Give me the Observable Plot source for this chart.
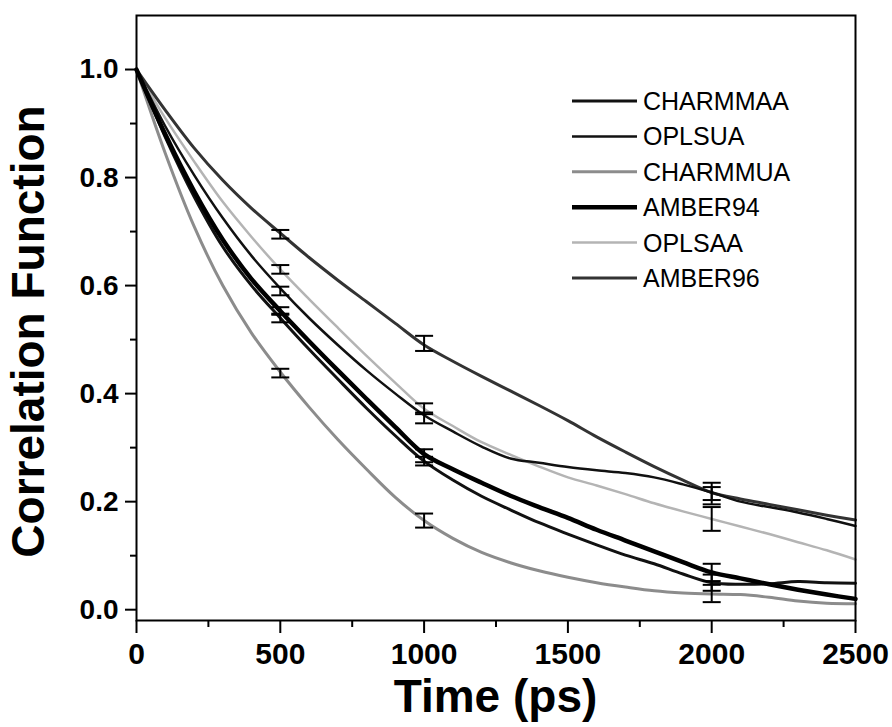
<!DOCTYPE html>
<html><head><meta charset="utf-8">
<script src="https://cdn.jsdelivr.net/npm/d3@7"></script>
<script src="https://cdn.jsdelivr.net/npm/@observablehq/plot@0.6"></script>
<style>body{margin:0;background:#fff}</style>
</head><body><div id="chart"></div>
<script>
// ---- data ----
const time = [0,100,200,300,400,500,600,700,800,900,1000,1100,1200,1300,1400,1500,1600,1700,1800,1900,2000,2100,2200,2300,2400,2500];
const CHARMMAA = [1.0,0.875,0.765,0.672,0.6,0.54,0.482,0.427,0.373,0.322,0.275,0.24,0.21,0.185,0.161,0.14,0.12,0.101,0.085,0.066,0.05,0.047,0.048,0.052,0.05,0.049];
const OPLSUA   = [1.0,0.895,0.805,0.725,0.655,0.595,0.54,0.49,0.443,0.4,0.36,0.33,0.302,0.28,0.272,0.264,0.258,0.253,0.245,0.232,0.217,0.2,0.19,0.18,0.168,0.155];
const CHARMMUA = [1.0,0.845,0.71,0.6,0.512,0.44,0.375,0.315,0.26,0.208,0.165,0.132,0.106,0.087,0.072,0.06,0.05,0.042,0.035,0.031,0.029,0.028,0.023,0.016,0.012,0.011];
const AMBER94  = [1.0,0.88,0.775,0.685,0.612,0.553,0.497,0.443,0.39,0.338,0.288,0.26,0.235,0.211,0.19,0.17,0.148,0.128,0.108,0.088,0.069,0.058,0.047,0.037,0.028,0.02];
const OPLSAA   = [1.0,0.91,0.83,0.755,0.69,0.63,0.575,0.522,0.47,0.42,0.372,0.34,0.31,0.287,0.265,0.245,0.23,0.214,0.197,0.182,0.168,0.154,0.14,0.125,0.11,0.093];
const AMBER96  = [1.0,0.925,0.855,0.795,0.743,0.697,0.652,0.61,0.57,0.53,0.49,0.46,0.432,0.405,0.378,0.35,0.32,0.292,0.265,0.24,0.217,0.205,0.195,0.185,0.175,0.166];

const seriesNames = ["CHARMMAA","OPLSUA","CHARMMUA","AMBER94","OPLSAA","AMBER96"];
const seriesValues = [CHARMMAA, OPLSUA, CHARMMUA, AMBER94, OPLSAA, AMBER96];

// error bars at selected times (centre, half-width)
const errTime = [500, 1000, 2000];
const errCenter = [
  [0.54, 0.275, 0.05],   // CHARMMAA
  [0.59, 0.355, 0.215],  // OPLSUA
  [0.438, 0.165, 0.03],  // CHARMMUA
  [0.553, 0.285, 0.069], // AMBER94
  [0.63, 0.372, 0.168],  // OPLSAA
  [0.695, 0.493, 0.215]  // AMBER96
];
const errHalf = [
  [0.008, 0.008, 0.015],
  [0.008, 0.01, 0.012],
  [0.008, 0.013, 0.016],
  [0.007, 0.012, 0.016],
  [0.008, 0.01, 0.022],
  [0.008, 0.014, 0.02]
];

const xTicks = [0, 500, 1000, 1500, 2000, 2500];
const xMinor = [250, 750, 1250, 1750, 2250];
const yTicks = [0, 0.2, 0.4, 0.6, 0.8, 1.0];
const yMinor = [0.1, 0.3, 0.5, 0.7, 0.9];
const xTitle = "Time (ps)";
const yTitle = "Correlation Function";

// ---- styles ----
const seriesColor = {CHARMMAA:"#111", OPLSUA:"#111", CHARMMUA:"#8c8c8c", AMBER94:"#000", OPLSAA:"#b4b4b4", AMBER96:"#333"};
const seriesWidth = {CHARMMAA:3, OPLSUA:2.5, CHARMMUA:3, AMBER94:4.5, OPLSAA:2.5, AMBER96:3};
const drawOrder = ["OPLSAA","CHARMMUA","AMBER96","OPLSUA","CHARMMAA","AMBER94"];

const W = 892, H = 727;
const mL = 136, mR = 37, mT = 15, mB = 107;
const FONT = "'Liberation Sans', Arial, sans-serif";

const rows = seriesNames.flatMap((name, i) => time.map((t, j) => ({series: name, t, v: seriesValues[i][j]})));
const errRows = seriesNames.flatMap((name, i) => errTime.map((t, j) => ({series: name, t, lo: errCenter[i][j] - errHalf[i][j], hi: errCenter[i][j] + errHalf[i][j]})));
const capRows = errRows.flatMap(d => [{t: d.t, v: d.lo}, {t: d.t, v: d.hi}]);

const capSymbol = {draw(ctx, size) { const r = Math.sqrt(size / Math.PI); ctx.moveTo(-r, 0); ctx.lineTo(r, 0); }};

function legend() {
  const g = d3.create("svg:g")
    .attr("font-family", FONT)
    .attr("font-size", 25).attr("font-weight", "normal");
  const x0 = W - mR - 283;
  seriesNames.forEach((name, i) => {
    const y = mT + 86 + i * 35.4;
    g.append("line").attr("x1", x0).attr("x2", x0 + 65).attr("y1", y).attr("y2", y)
      .attr("stroke", seriesColor[name]).attr("stroke-width", seriesWidth[name]);
    g.append("text").attr("x", x0 + 71).attr("y", y).attr("dy", "0.36em")
      .attr("text-anchor", "start").attr("fill", "#000").text(name);
  });
  return g.node();
}

function titles() {
  const g = d3.create("svg:g").attr("font-family", FONT).attr("font-weight", "bold")
    .attr("font-size", 46).attr("fill", "#000").attr("text-anchor", "middle");
  g.append("text").attr("x", (mL + W - mR) / 2).attr("y", H - 15).text(xTitle);
  g.append("text").attr("transform", `translate(44,${(mT + H - mB) / 2 + 14}) rotate(-90)`).text(yTitle);
  return g.node();
}

const chart = Plot.plot({
  width: W, height: H,
  marginLeft: mL, marginRight: mR, marginTop: mT, marginBottom: mB,
  style: {fontFamily: FONT, fontWeight: "bold", background: "#fff", color: "#000"},
  x: {domain: [0, 2500]},
  y: {domain: [-0.02, 1.1]},
  marks: [
    Plot.axisX({ticks: xTicks, tickSize: 13, tickPadding: 9, strokeWidth: 2, fontSize: 30, fontWeight: "bold", tickFormat: d => String(d), label: null}),
    Plot.axisX({ticks: xMinor, tickSize: 7, strokeWidth: 2, tickFormat: () => "", label: null}),
    Plot.axisY({ticks: yTicks, tickSize: 11, tickPadding: 7, strokeWidth: 2, fontSize: 28, fontWeight: "bold", tickFormat: d3.format(".1f"), label: null}),
    Plot.axisY({ticks: yMinor, tickSize: 6, strokeWidth: 2, tickFormat: () => "", label: null}),
    ...drawOrder.map(name => Plot.line(rows.filter(d => d.series === name), {
      x: "t", y: "v", stroke: seriesColor[name], strokeWidth: seriesWidth[name], curve: "catmull-rom"
    })),
    Plot.ruleX(errRows, {x: "t", y1: "lo", y2: "hi", stroke: "#000", strokeWidth: 2}),
    Plot.dot(capRows, {x: "t", y: "v", symbol: capSymbol, r: 9, stroke: "#000", strokeWidth: 2, fill: "none"}),
    Plot.frame({stroke: "#000", strokeWidth: 2}),
    titles,
    legend
  ]
});
document.getElementById("chart").appendChild(chart);
</script>
</body></html>
